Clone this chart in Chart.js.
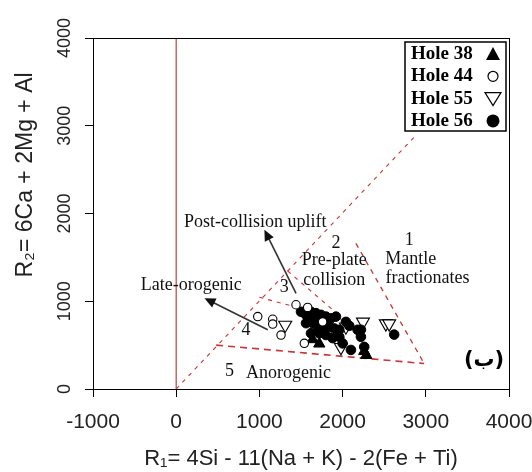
<!DOCTYPE html>
<html>
<head>
<meta charset="utf-8">
<script src="https://cdn.jsdelivr.net/npm/chart.js@4.4.0/dist/chart.umd.min.js"></script>
<style>
  html, body { margin: 0; padding: 0; background: #fff; }
  canvas { display: block; }
</style>
</head>
<body>
<canvas id="chart" width="532" height="472"></canvas>
<script>
// R1-R2 diagram (Batchelor & Bowden)
const holeLabels = ['Hole 38', 'Hole 44', 'Hole 55', 'Hole 56'];

const hole38R1 = [1640, 1720, 1760, 1950, 2260, 2285];
const hole38R2 = [565, 515, 690, 620, 430, 385];

const hole44R1 = [980, 1160, 1160, 1260, 1440, 1580, 1540, 1760];
const hole44R2 = [825, 795, 740, 615, 960, 930, 520, 765];

const hole55R1 = [1310, 1980, 2040, 2245, 2520, 2560];
const hole55R2 = [730, 475, 710, 765, 745, 745];

const hole56R1 = [1500, 1560, 1620, 1680, 1740, 1800, 1860, 1920, 1560, 1640, 1700, 1780, 1840, 1900, 1960, 1620,
  1720, 1800, 1880, 1960, 2040, 2180, 2220, 2100, 2000, 2620, 2260, 2220, 1600, 1690, 1760, 2080];
const hole56R2 = [880, 845, 880, 865, 845, 825, 805, 825, 750, 750, 710, 730, 710, 690, 675, 635,
  635, 615, 580, 595, 765, 675, 595, 445, 520, 620, 480, 675, 800, 790, 780, 720];

// field boundaries
const zeroLineX = [0, 0];
const zeroLineY = [0, 4000];
const diagLineX = [0, 2860];
const diagLineY = [0, 2870];
const baseLineX = [480, 2980];
const baseLineY = [500, 290];
const rightLineX = [2160, 2980];
const rightLineY = [1660, 290];
const field23X = [1340, 2300];
const field23Y = [1345, 560];
const field34X = [1000, 2050];
const field34Y = [1045, 780];

// axis ticks
const xTicks = [-1000, 0, 1000, 2000, 3000, 4000];
const yTicks = [0, 1000, 2000, 3000, 4000];

// field names (text, R1, R2)
const fieldText = ['Post-collision uplift', 'Late-orogenic', '2', 'Pre-plate', 'collision', '1', 'Mantle',
  'fractionates', '3', '4', '5', 'Anorogenic'];
const fieldTextR1 = [950, 180, 1920, 1900, 1900, 2800, 2820, 3020, 1300, 840, 640, 1350];
const fieldTextR2 = [1905, 1185, 1660, 1470, 1240, 1700, 1480, 1265, 1165, 675, 200, 180];

// arrows: from R1/R2 to R1/R2
const arrowFromR1 = [1440, 1100];
const arrowFromR2 = [1090, 675];
const arrowToR1 = [1060, 340];
const arrowToR2 = [1815, 1035];

function pts(xs, ys) {
  return xs.map((x, i) => ({ x: x, y: ys[i] }));
}

function boundary(xs, ys, color, width, dash) {
  return {
    data: pts(xs, ys),
    showLine: true,
    borderColor: color,
    borderWidth: width,
    borderDash: dash,
    pointRadius: 0,
    fill: false,
    order: 10
  };
}

// draws one legend symbol by hand
function drawSymbol(ctx, kind, x, y) {
  ctx.save();
  ctx.lineWidth = 1.2;
  ctx.strokeStyle = '#000';
  ctx.fillStyle = '#000';
  ctx.beginPath();
  if (kind === 'up') {
    ctx.moveTo(x, y - 7); ctx.lineTo(x + 7, y + 6); ctx.lineTo(x - 7, y + 6); ctx.closePath(); ctx.fill();
  } else if (kind === 'down') {
    ctx.moveTo(x - 8, y - 6); ctx.lineTo(x + 8, y - 6); ctx.lineTo(x, y + 7); ctx.closePath(); ctx.stroke();
  } else if (kind === 'open') {
    ctx.arc(x, y, 5, 0, Math.PI * 2); ctx.stroke();
  } else {
    ctx.arc(x, y, 6.5, 0, Math.PI * 2); ctx.fill();
  }
  ctx.restore();
}

const rPlot = {
  id: 'rPlot',
  afterDatasetsDraw(chart) {
    const ctx = chart.ctx;
    const xs = chart.scales.x, ys = chart.scales.y;
    ctx.save();

    // arrows
    ctx.strokeStyle = '#333';
    ctx.fillStyle = '#111';
    ctx.lineWidth = 1.6;
    for (let i = 0; i < arrowFromR1.length; i++) {
      const x0 = xs.getPixelForValue(arrowFromR1[i]), y0 = ys.getPixelForValue(arrowFromR2[i]);
      const x1 = xs.getPixelForValue(arrowToR1[i]), y1 = ys.getPixelForValue(arrowToR2[i]);
      const a = Math.atan2(y1 - y0, x1 - x0);
      ctx.beginPath();
      ctx.moveTo(x0, y0);
      ctx.lineTo(x1 - Math.cos(a) * 8, y1 - Math.sin(a) * 8);
      ctx.stroke();
      ctx.beginPath();
      ctx.moveTo(x1, y1);
      ctx.lineTo(x1 - Math.cos(a) * 11 + Math.sin(a) * 5, y1 - Math.sin(a) * 11 - Math.cos(a) * 5);
      ctx.lineTo(x1 - Math.cos(a) * 11 - Math.sin(a) * 5, y1 - Math.sin(a) * 11 + Math.cos(a) * 5);
      ctx.closePath();
      ctx.fill();
    }

    // field names
    ctx.fillStyle = '#111';
    ctx.font = '18px "Liberation Serif"';
    ctx.textAlign = 'center';
    ctx.textBaseline = 'middle';
    fieldText.forEach((t, i) => {
      ctx.fillText(t, xs.getPixelForValue(fieldTextR1[i]), ys.getPixelForValue(fieldTextR2[i]));
    });

    // panel letter
    ctx.font = 'bold 21px "DejaVu Sans"';
    ctx.fillStyle = '#000';
    ctx.fillText('(ب)', xs.getPixelForValue(3700), ys.getPixelForValue(320));
    ctx.restore();
  },
  afterDraw(chart) {
    const ctx = chart.ctx;
    const area = chart.chartArea;
    const ys = chart.scales.y;
    ctx.save();

    // box round the plot
    ctx.strokeStyle = '#000';
    ctx.lineWidth = 1;
    ctx.strokeRect(area.left + 0.5, area.top + 0.5, area.right - area.left, area.bottom - area.top);

    // y tick labels, turned like R does
    ctx.fillStyle = '#222';
    ctx.font = '18px "Liberation Sans"';
    ctx.textAlign = 'center';
    ctx.textBaseline = 'middle';
    yTicks.forEach(v => {
      ctx.save();
      ctx.translate(65, ys.getPixelForValue(v));
      ctx.rotate(-Math.PI / 2);
      ctx.fillText(String(v), 0, 0);
      ctx.restore();
    });

    // y title
    ctx.save();
    ctx.font = '23px "Liberation Sans"';
    ctx.translate(26, 175);
    ctx.rotate(-Math.PI / 2);
    ctx.fillText('R\u2082= 6Ca + 2Mg + Al', 0, 0);
    ctx.restore();

    // legend box, top right
    const bx = area.right - 104, by = area.top + 4, bw = 101, bh = 89;
    ctx.fillStyle = '#fff';
    ctx.fillRect(bx, by, bw, bh);
    ctx.lineWidth = 1.5;
    ctx.strokeStyle = '#000';
    ctx.strokeRect(bx, by, bw, bh);
    ctx.font = 'bold 19px "Liberation Serif"';
    ctx.textAlign = 'left';
    ctx.fillStyle = '#000';
    const kinds = ['up', 'open', 'down', 'filled'];
    holeLabels.forEach((lab, i) => {
      const yy = by + 12 + i * 22.3;
      ctx.fillText(lab, bx + 6, yy);
      drawSymbol(ctx, kinds[i], bx + 88, yy);
    });
    ctx.restore();
  }
};

const tickFont = { family: 'Liberation Sans', size: 21 };
const titleFont = { family: 'Liberation Sans', size: 22 };

new Chart(document.getElementById('chart'), {
  type: 'scatter',
  data: {
    datasets: [
      {
        label: holeLabels[1], data: pts(hole44R1, hole44R2), pointStyle: 'circle', pointRadius: 4.2,
        backgroundColor: '#fff', borderColor: '#000', borderWidth: 1.1, order: 0
      },
      {
        label: holeLabels[0], data: pts(hole38R1, hole38R2), pointStyle: 'triangle', pointRadius: 6.5,
        backgroundColor: '#000', borderColor: '#000', borderWidth: 1, order: 1
      },
      {
        label: holeLabels[3], data: pts(hole56R1, hole56R2), pointStyle: 'circle', pointRadius: 4.8,
        backgroundColor: '#000', borderColor: '#000', borderWidth: 1, order: 2
      },
      {
        label: holeLabels[2], data: pts(hole55R1, hole55R2), pointStyle: 'triangle', rotation: 180,
        pointRadius: 7.5, backgroundColor: '#fff', borderColor: '#000', borderWidth: 1.1, order: 3
      },
      boundary(zeroLineX, zeroLineY, '#c0504d', 1.3, []),
      boundary(diagLineX, diagLineY, '#cc3333', 1.1, [4, 5]),
      boundary(baseLineX, baseLineY, '#cc3333', 1.6, [7, 5]),
      boundary(rightLineX, rightLineY, '#cc3333', 1.3, [5, 5]),
      boundary(field23X, field23Y, '#cc3333', 1.1, [4, 5]),
      boundary(field34X, field34Y, '#cc3333', 1.1, [4, 5])
    ]
  },
  options: {
    responsive: false,
    animation: false,
    layout: { padding: { top: 38, right: 23, left: 0, bottom: 0 } },
    plugins: { legend: { display: false }, tooltip: { enabled: false } },
    scales: {
      x: {
        type: 'linear',
        min: -1000,
        max: 4000,
        afterFit: s => { s.height = 83; s.paddingLeft = 0; s.paddingRight = 0; },
        afterBuildTicks: s => { s.ticks = xTicks.map(v => ({ value: v })); },
        grid: { drawOnChartArea: false, tickLength: 8, color: '#000' },
        border: { color: '#000' },
        ticks: { font: tickFont, color: '#222', padding: 13, maxRotation: 0, callback: v => String(v) },
        title: {
          display: true,
          text: 'R\u2081= 4Si - 11(Na + K) - 2(Fe + Ti)',
          font: titleFont,
          color: '#222',
          padding: { top: 0, bottom: 0 }
        }
      },
      y: {
        type: 'linear',
        min: 0,
        max: 4000,
        afterFit: s => { s.width = 93; s.paddingTop = 0; s.paddingBottom = 0; },
        afterBuildTicks: s => { s.ticks = yTicks.map(v => ({ value: v })); },
        grid: { drawOnChartArea: false, tickLength: 8, color: '#000' },
        border: { color: '#000' },
        ticks: { display: false }
      }
    }
  },
  plugins: [rPlot]
});
</script>
</body>
</html>
